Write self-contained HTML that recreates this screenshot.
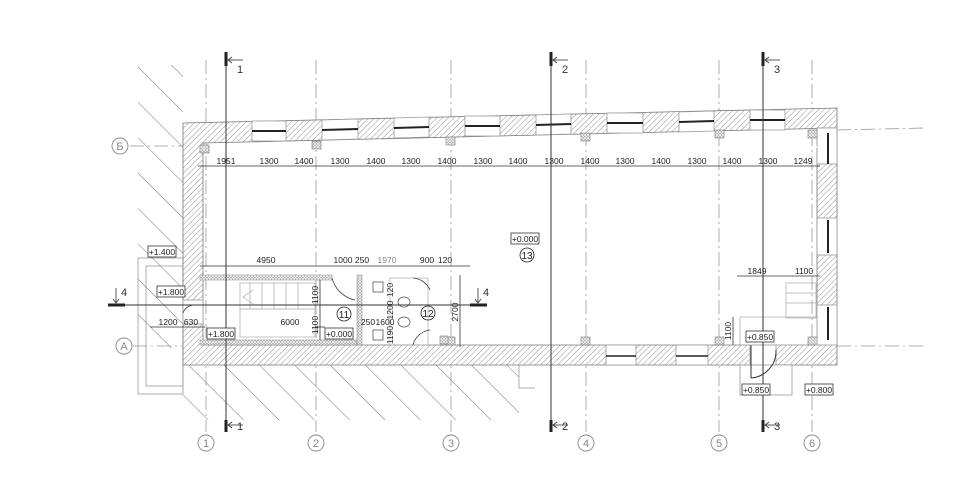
<!DOCTYPE html>
<html><head><meta charset="utf-8"><style>
html,body{margin:0;padding:0;background:#fff;}
svg{display:block;font-family:"Liberation Sans",sans-serif;}
</style></head><body>
<svg width="975" height="481" viewBox="0 0 975 481" xmlns="http://www.w3.org/2000/svg">
<defs>
<pattern id="wh" width="4" height="4" patternUnits="userSpaceOnUse" patternTransform="rotate(45)">
<rect width="4" height="4" fill="#fff"/><line x1="0" y1="0" x2="0" y2="4" stroke="#777" stroke-width="0.8"/></pattern>
<pattern id="gh" width="25" height="25" patternUnits="userSpaceOnUse" patternTransform="rotate(-45)">
<line x1="0" y1="0" x2="0" y2="25" stroke="#666" stroke-width="0.9"/></pattern>
<pattern id="dots" width="3" height="3" patternUnits="userSpaceOnUse">
<rect width="3" height="3" fill="#fff"/><circle cx="1.5" cy="1.5" r="1" fill="none" stroke="#777" stroke-width="0.5"/></pattern>
</defs>
<g fill="none" stroke="#999" stroke-width="0.8">
<rect x="138" y="258" width="45" height="136"/>
<rect x="146" y="266" width="37" height="120"/>
<polyline points="519,365 519,388 535,388"/>
</g>
<!-- ground hatch -->
<rect x="138" y="65" width="45" height="283" fill="url(#gh)"/>
<rect x="183" y="365" width="336" height="55" fill="url(#gh)"/>
<!-- grid lines -->
<g stroke="#999" stroke-width="0.8" stroke-dasharray="14,4,2,4" fill="none">
<line x1="206" y1="60" x2="206" y2="432"/><line x1="316" y1="60" x2="316" y2="432"/>
<line x1="451" y1="60" x2="451" y2="432"/><line x1="586" y1="60" x2="586" y2="432"/>
<line x1="719" y1="60" x2="719" y2="432"/><line x1="812" y1="60" x2="812" y2="432"/>
<line x1="130" y1="146" x2="185" y2="146"/><line x1="837" y1="130" x2="925" y2="128"/>
<line x1="133" y1="346" x2="183" y2="346"/><line x1="837" y1="346" x2="925" y2="346"/>
</g>
<g fill="none" stroke="#888" stroke-width="0.9" font-size="12" text-anchor="middle">
<circle cx="206" cy="443" r="8"/><circle cx="316" cy="443" r="8"/><circle cx="451" cy="443" r="8"/>
<circle cx="586" cy="443" r="8"/><circle cx="719" cy="443" r="8"/><circle cx="812" cy="443" r="8"/>
<circle cx="120" cy="146" r="8"/><circle cx="124" cy="346" r="8"/>
</g>
<g fill="#888" font-size="11" text-anchor="middle">
<text x="206" y="447">1</text><text x="316" y="447">2</text><text x="451" y="447">3</text>
<text x="586" y="447">4</text><text x="719" y="447">5</text><text x="812" y="447">6</text>
<text x="120" y="150">Б</text><text x="124" y="350">А</text>
</g>
<!-- walls -->
<polygon points="183,123 837,108 837,128 203,143 203,345 817,345 817,128 837,128 837,365 183,365" fill="url(#wh)" stroke="#777" stroke-width="0.8"/>
<!-- windows in top wall -->
<g fill="#fff" stroke="#999" stroke-width="0.8">
<polygon points="252,121 286,121 286,141 252,141"/>
<polygon points="322,120 358,119 358,139 322,140"/>
<polygon points="394,118 429,117 429,137 394,138"/>
<polygon points="465,116 500,116 500,136 465,136"/>
<polygon points="536,115 571,114 571,134 536,135"/>
<polygon points="607,113 643,113 643,133 607,133"/>
<polygon points="679,112 714,111 714,131 679,132"/>
<polygon points="750,110 785,110 785,130 750,130"/>
<rect x="817" y="128" width="20" height="36"/>
<rect x="817" y="218" width="20" height="37"/>
<rect x="817" y="305" width="20" height="40"/>
<rect x="200" y="146" width="617" height="2" stroke="none"/>
</g>
<g stroke="#222" stroke-width="2">
<line x1="252" y1="131" x2="286" y2="131"/><line x1="322" y1="130" x2="358" y2="129"/>
<line x1="394" y1="128" x2="429" y2="127"/><line x1="465" y1="126" x2="500" y2="126"/>
<line x1="536" y1="125" x2="571" y2="124"/><line x1="607" y1="123" x2="643" y2="123"/>
<line x1="679" y1="122" x2="714" y2="121"/><line x1="750" y1="120" x2="785" y2="120"/>
<line x1="828" y1="133" x2="828" y2="164"/><line x1="828" y1="220" x2="828" y2="253"/>
<line x1="828" y1="307" x2="828" y2="340"/>
</g>
<!-- columns -->
<g fill="url(#dots)" stroke="#777" stroke-width="0.6">
<rect x="200" y="145" width="9" height="8"/><rect x="312" y="141" width="9" height="8"/>
<rect x="446" y="137" width="9" height="8"/><rect x="581" y="133" width="9" height="8"/>
<rect x="715" y="130" width="9" height="8"/><rect x="808" y="130" width="9" height="8"/>
<rect x="581" y="337" width="9" height="8"/><rect x="715" y="337" width="9" height="8"/>
<rect x="808" y="337" width="9" height="8"/><rect x="446" y="337" width="9" height="8"/>
</g>
<!-- door openings in bottom wall -->
<g fill="#fff" stroke="#999" stroke-width="0.8">
<rect x="606" y="345" width="30" height="20"/><rect x="676" y="345" width="32" height="20"/>
<rect x="750" y="345" width="26" height="20"/>
<rect x="183" y="300" width="20" height="24"/>
<rect x="740" y="365" width="52" height="30"/>
</g>
<g stroke="#222" stroke-width="1.6"><line x1="606" y1="356" x2="636" y2="356"/><line x1="676" y1="356" x2="708" y2="356"/></g>
<path d="M751 345 V378 M751 378 A27 27 0 0 0 776 350" fill="none" stroke="#333" stroke-width="1"/>
<!-- stair enclosure -->
<rect x="200" y="275" width="132" height="5" fill="url(#dots)" stroke="#888" stroke-width="0.5"/>
<rect x="200" y="340" width="157" height="5" fill="url(#dots)" stroke="#888" stroke-width="0.5"/>
<rect x="357" y="275" width="5" height="70" fill="url(#dots)" stroke="#888" stroke-width="0.5"/>
<g stroke="#aaa" stroke-width="0.7" fill="none">
<rect x="240" y="283" width="75" height="54"/>
<line x1="240" y1="309" x2="315" y2="309"/>
<line x1="250" y1="283" x2="250" y2="309"/><line x1="262" y1="283" x2="262" y2="309"/><line x1="274" y1="283" x2="274" y2="309"/><line x1="286" y1="283" x2="286" y2="309"/><line x1="298" y1="283" x2="298" y2="309"/>
<polyline points="253,290 243,297 253,304"/>
<rect x="786" y="283" width="30" height="35"/>
<line x1="786" y1="293" x2="816" y2="293"/><line x1="786" y1="303" x2="816" y2="303"/>
<rect x="740" y="317" width="77" height="28"/>
<rect x="390" y="278" width="38" height="67"/>
</g>
<path d="M332 278 A30 30 0 0 0 355 300" fill="none" stroke="#444" stroke-width="0.8"/>
<path d="M413 278 A20 20 0 0 1 430 290" fill="none" stroke="#444" stroke-width="0.8"/>
<path d="M413 345 A20 20 0 0 1 430 330" fill="none" stroke="#444" stroke-width="0.8"/>
<path d="M183 313 A12 12 0 0 1 195 305" fill="none" stroke="#444" stroke-width="0.8"/>
<g stroke="#555" stroke-width="0.8" fill="#fff">
<rect x="373" y="282" width="10" height="10"/><rect x="373" y="330" width="10" height="10"/>
<ellipse cx="404" cy="302" rx="6" ry="5"/><ellipse cx="404" cy="322" rx="6" ry="5"/>
</g>
<rect x="440" y="336" width="8" height="8" fill="url(#dots)" stroke="#777" stroke-width="0.6"/>
<!-- section lines -->
<g stroke="#333" stroke-width="1">
<line x1="226" y1="52" x2="226" y2="432"/><line x1="551" y1="52" x2="551" y2="432"/><line x1="763" y1="52" x2="763" y2="432"/>
<line x1="108" y1="305" x2="485" y2="305"/>
</g>
<g stroke="#222" stroke-width="3">
<line x1="226" y1="52" x2="226" y2="66"/><line x1="226" y1="420" x2="226" y2="432"/>
<line x1="551" y1="52" x2="551" y2="66"/><line x1="551" y1="420" x2="551" y2="432"/>
<line x1="763" y1="52" x2="763" y2="66"/><line x1="763" y1="420" x2="763" y2="432"/>
<line x1="108" y1="305" x2="125" y2="305"/><line x1="470" y1="305" x2="487" y2="305"/>
</g>
<g stroke="#333" stroke-width="0.8" fill="none">
<polyline points="232,57 228,60 232,63"/><line x1="228" y1="60" x2="243" y2="60"/>
<polyline points="557,57 553,60 557,63"/><line x1="553" y1="60" x2="568" y2="60"/>
<polyline points="769,57 765,60 769,63"/><line x1="765" y1="60" x2="780" y2="60"/>
<polyline points="232,422 228,425 232,428"/><line x1="228" y1="425" x2="243" y2="425"/>
<polyline points="557,422 553,425 557,428"/><line x1="553" y1="425" x2="568" y2="425"/>
<polyline points="769,422 765,425 769,428"/><line x1="765" y1="425" x2="780" y2="425"/>
<line x1="116" y1="288" x2="116" y2="303"/><polyline points="113,299 116,303 119,299"/>
<line x1="478" y1="288" x2="478" y2="303"/><polyline points="475,299 478,303 481,299"/>
</g>
<g fill="#333" font-size="11">
<text x="237" y="73">1</text><text x="562" y="73">2</text><text x="774" y="73">3</text>
<text x="237" y="430">1</text><text x="562" y="430">2</text><text x="774" y="430">3</text>
<text x="121" y="296">4</text><text x="483" y="296">4</text>
</g>
<!-- dimension lines -->
<g stroke="#333" stroke-width="0.8">
<line x1="198" y1="166" x2="820" y2="166"/>
<line x1="200" y1="266" x2="470" y2="266"/>
<line x1="150" y1="327" x2="205" y2="327"/>
<line x1="315" y1="327" x2="325" y2="327"/>
<line x1="737" y1="276" x2="820" y2="276"/>
<line x1="460" y1="275" x2="460" y2="347"/>
<line x1="320" y1="280" x2="320" y2="340"/>
<line x1="733" y1="317" x2="733" y2="345"/>
</g>
<g fill="#222" font-size="8.5" text-anchor="middle">
<text x="226" y="164">1951</text><text x="269" y="164">1300</text><text x="304" y="164">1400</text>
<text x="340" y="164">1300</text><text x="376" y="164">1400</text><text x="411" y="164">1300</text>
<text x="447" y="164">1400</text><text x="483" y="164">1300</text><text x="518" y="164">1400</text>
<text x="554" y="164">1300</text><text x="590" y="164">1400</text><text x="625" y="164">1300</text>
<text x="661" y="164">1400</text><text x="697" y="164">1300</text><text x="732" y="164">1400</text>
<text x="768" y="164">1300</text><text x="803" y="164">1249</text>
<text x="266" y="263">4950</text><text x="343" y="263">1000</text><text x="362" y="263">250</text>
<text x="387" y="263" fill="#888">1970</text><text x="427" y="263">900</text><text x="445" y="263">120</text>
<text x="168" y="325">1200</text><text x="191" y="325">630</text><text x="290" y="325">6000</text>
<text x="368" y="325">250</text><text x="385" y="325">1600</text>
<text x="757" y="274">1849</text><text x="804" y="274">1100</text>
</g>
<g fill="#222" font-size="8.5" text-anchor="middle">
<text transform="translate(318,295) rotate(-90)">1100</text>
<text transform="translate(318,325) rotate(-90)">1100</text>
<text transform="translate(458,312) rotate(-90)">2700</text>
<text transform="translate(393,290) rotate(-90)">120</text>
<text transform="translate(393,310) rotate(-90)">1200</text>
<text transform="translate(393,335) rotate(-90)">1190</text>
<text transform="translate(731,331) rotate(-90)">1100</text>
</g>
<!-- level marks -->
<g fill="#fff" stroke="#333" stroke-width="0.8">
<rect x="148" y="246" width="28" height="11"/><rect x="157" y="286" width="28" height="11"/>
<rect x="207" y="328" width="28" height="11"/><rect x="325" y="328" width="28" height="11"/>
<rect x="511" y="233" width="28" height="11"/><rect x="746" y="331" width="28" height="11"/>
<rect x="742" y="384" width="28" height="11"/><rect x="805" y="384" width="28" height="11"/>
</g>
<g fill="#222" font-size="8.5" text-anchor="middle">
<text x="162" y="255">+1.400</text><text x="171" y="295">+1.800</text>
<text x="221" y="337">+1.800</text><text x="339" y="337">+0.000</text>
<text x="525" y="242">+0.000</text><text x="760" y="340">+0.850</text>
<text x="756" y="393">+0.850</text><text x="819" y="393">+0.800</text>
</g>
<g fill="none" stroke="#222" stroke-width="0.8">
<circle cx="344" cy="314" r="7"/><circle cx="428" cy="313" r="7"/><circle cx="527" cy="255" r="7"/>
</g>
<g fill="#222" font-size="10" text-anchor="middle">
<text x="344" y="318">11</text><text x="428" y="317">12</text><text x="527" y="259">13</text>
</g>
</svg>
</body></html>
